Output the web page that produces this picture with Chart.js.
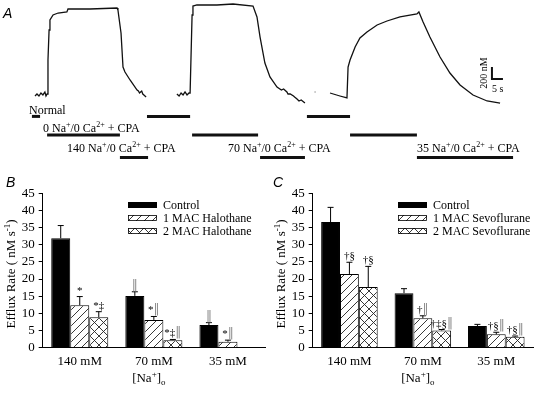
<!DOCTYPE html>
<html>
<head>
<meta charset="utf-8">
<script src="https://cdn.jsdelivr.net/npm/chart.js@4"></script>
<style>
body { margin: 0; background: #fff; }
#wrap { position: relative; width: 546px; height: 395px; overflow: hidden; }
canvas { position: absolute; }
</style>
</head>
<body>
<div id="wrap">
	<canvas id="chartA" style="left:0;top:0;width:546px;height:165px" width="546" height="165"></canvas>
	<canvas id="chartB" style="left:0;top:165px;width:270px;height:230px" width="270" height="230"></canvas>
	<canvas id="chartC" style="left:270px;top:165px;width:276px;height:230px" width="276" height="230"></canvas>
</div>
<script>
// ---- panel A: Ca trace, [time s, nM] ----
const trace1 = [[0,150],[0.9,183],[1.8,150],[2.7,200],[3.6,167],[4.5,217],[5,150],[5.5,183],[5.9,750],[6.4,1250],[6.8,1417],[8.2,1500],[10.5,1533],[14.5,1550],[15,1600],[25,1600],[37.3,1617],[37.7,1583],[39.1,1200],[40,633],[40.9,550],[43.2,417],[46.4,250],[47,233],[47.5,200],[48,217],[48.5,233],[49,183],[49.5,167],[50.5,133]];
const trace2 = [[64.5,183],[65.5,150],[66.4,200],[67.3,167],[68.2,217],[69.1,167],[70,200],[70.5,200],[71.4,1500],[71.8,1650],[73.6,1667],[82.7,1667],[90,1683],[99.1,1650],[100.9,1467],[102.3,1133],[104.5,700],[106.8,467],[110,300],[112,250],[113,267],[114.5,217],[115,183],[116,183],[117.5,150],[118,133],[119.1,100],[120,67],[121,83],[122.7,33]];
const trace3 = [[134.1,200],[138.6,150],[141.8,117],[142.3,633],[143.2,750],[145.5,967],[147.7,1117],[150.9,1217],[155.5,1333],[160,1400],[165.9,1467],[173.6,1517],[174.5,1550],[176.4,1383],[179.5,1133],[184.1,800],[188.6,533],[193.2,333],[199.1,167],[205.5,67],[211.4,33]];
const strayPoint = [[127.3,217]];

// solution periods (s)
const normalBars = [[-1.4,2.3],[50.9,70.5],[123.6,143.2]];
const zeroNaBars = [[5.5,38.6],[71.4,101.4],[143.2,173.6]];
const testNaBars = [[38.6,51.4],[102.3,122.7],[173.6,217.3]];
const scaleBarNM = 200;
const scaleBarS = 5;

// ---- panels B and C: efflux rates (nM/s) ----
const naLabels = ['140 mM', '70 mM', '35 mM'];
const haloNames = ['Control', '1 MAC Halothane', '2 MAC Halothane'];
const sevoNames = ['Control', '1 MAC Sevoflurane', '2 MAC Sevoflurane'];

const haloControl = [31.9, 15.1, 6.6];
const haloControlErr = [3.7, 1.2, 0.7];
const halo1 = [12.4, 8.1, 1.75];
const halo1Err = [2.5, 1.0, 0.45];
const halo2 = [8.9, 2.2, 0];
const halo2Err = [1.6, 0.2, 0];

const sevoControl = [36.6, 15.9, 6.3];
const sevoControlErr = [4.3, 1.3, 0.5];
const sevo1 = [21.5, 8.6, 3.9];
const sevo1Err = [3.4, 0.7, 0.6];
const sevo2 = [17.7, 5.0, 3.2];
const sevo2Err = [6.0, 0.3, 0.2];

const haloMarks = [['', '‖', '‖'], ['*', '*‖', '*‖'], ['*‡', '*‡‖', '']];
const sevoMarks = [['', '', ''], ['†§', '†‖', '†§‖'], ['†§', '†‡§‖', '†§‖']];

const SERIF = '"Liberation Serif", "Times New Roman", serif';

// text with ^{sup} and _{sub}
function richText(ctx, str, x, y, size, align) {
	const parts = [];
	const re = /([\^_])\{([^}]*)\}|([^\^_]+)/g;
	let m;
	while ((m = re.exec(str))) {
		if (m[3]) parts.push({ t: m[3], k: 0 });
		else parts.push({ t: m[2], k: m[1] === '^' ? 1 : -1 });
	}
	const big = size + 'px ' + SERIF;
	const small = Math.round(size * 0.68) + 'px ' + SERIF;
	let w = 0;
	parts.forEach(p => { ctx.font = p.k ? small : big; p.w = ctx.measureText(p.t).width; w += p.w; });
	let cx = align === 'center' ? x - w / 2 : x;
	ctx.textAlign = 'left';
	ctx.textBaseline = 'alphabetic';
	parts.forEach(p => {
		ctx.font = p.k ? small : big;
		const dy = p.k === 1 ? -size * 0.38 : p.k === -1 ? size * 0.25 : 0;
		ctx.fillText(p.t, cx, y + dy);
		cx += p.w;
	});
}

function makePattern(cross) {
	const c = document.createElement('canvas');
	const s = cross ? 9 : 8;
	c.width = s; c.height = s;
	const g = c.getContext('2d');
	g.fillStyle = '#fff';
	g.fillRect(0, 0, s, s);
	g.strokeStyle = '#222';
	g.lineWidth = 0.9;
	g.beginPath();
	g.moveTo(-1, s + 1); g.lineTo(s + 1, -1);
	g.moveTo(-1, 1); g.lineTo(1, -1);
	g.moveTo(s - 1, s + 1); g.lineTo(s + 1, s - 1);
	if (cross) {
		g.moveTo(-1, -1); g.lineTo(s + 1, s + 1);
		g.moveTo(s - 1, -1); g.lineTo(s + 1, 1);
		g.moveTo(-1, s - 1); g.lineTo(1, s + 1);
	}
	g.stroke();
	return g.createPattern(c, 'repeat');
}

// ---------------- panel A ----------------
function lineSet(points, width) {
	return {
		data: points.map(p => ({ x: p[0], y: p[1] })),
		showLine: true,
		borderColor: '#111',
		borderWidth: width,
		pointRadius: 0,
		tension: 0,
		borderCapStyle: 'butt',
		clip: false
	};
}

const rowNormal = -190, rowZero = -500, rowTest = -875;
const protoSets = [];
normalBars.forEach(b => protoSets.push(lineSet([[b[0], rowNormal], [b[1], rowNormal]], 3)));
zeroNaBars.forEach(b => protoSets.push(lineSet([[b[0], rowZero], [b[1], rowZero]], 3)));
testNaBars.forEach(b => protoSets.push(lineSet([[b[0], rowTest], [b[1], rowTest]], 3)));

const sbX = 207.7, sbY = 433;
const scaleBar = lineSet([[sbX, sbY + scaleBarNM], [sbX, sbY], [sbX + scaleBarS, sbY]], 2);

const strayDot = lineSet(strayPoint, 0);
strayDot.showLine = false;
strayDot.pointRadius = 0.7;
strayDot.pointBackgroundColor = '#888';
strayDot.pointBorderWidth = 0;

const panelALabels = {
	id: 'panelALabels',
	afterDraw(chart) {
		const ctx = chart.ctx;
		ctx.save();
		ctx.fillStyle = '#000';
		ctx.font = 'italic 14px "Liberation Sans", Arial, sans-serif';
		ctx.textAlign = 'left';
		ctx.textBaseline = 'alphabetic';
		ctx.fillText('A', 3, 18);
		richText(ctx, 'Normal', 29, 113.5, 12, 'left');
		richText(ctx, '0 Na^{+}/0 Ca^{2+} + CPA', 43, 131.5, 12, 'left');
		richText(ctx, '140 Na^{+}/0 Ca^{2+} + CPA', 67, 152, 12, 'left');
		richText(ctx, '70 Na^{+}/0 Ca^{2+} + CPA', 228, 152, 12, 'left');
		richText(ctx, '35 Na^{+}/0 Ca^{2+} + CPA', 417, 152, 12, 'left');
		richText(ctx, '5 s', 492, 92, 10, 'left');
		ctx.translate(486.5, 73);
		ctx.rotate(-Math.PI / 2);
		richText(ctx, '200 nM', 0, 0, 10, 'center');
		ctx.restore();
	}
};

new Chart(document.getElementById('chartA'), {
	type: 'scatter',
	data: {
		datasets: [lineSet(trace1, 1.3), lineSet(trace2, 1.3), lineSet(trace3, 1.3), strayDot, scaleBar].concat(protoSets)
	},
	options: {
		responsive: false,
		animation: false,
		layout: { padding: 0 },
		plugins: { legend: { display: false }, tooltip: { enabled: false } },
		scales: {
			// the library keeps a 4px point margin round the plot area
			x: { type: 'linear', display: false, min: -14.09, max: 230.45 },
			y: { type: 'linear', display: false, min: -933.3, max: 1683.3 }
		}
	},
	plugins: [panelALabels]
});

// ---------------- panels B and C ----------------
function barPanel(canvasId, letter, names, values, errors, marks, padRight) {
	const fills = ['#000', makePattern(false), makePattern(true)];

	const extras = {
		id: 'extras' + letter,
		afterDatasetsDraw(chart) {
			const ctx = chart.ctx;
			const ys = chart.scales.y;
			ctx.save();
			ctx.strokeStyle = '#000';
			ctx.lineWidth = 1;
			chart.data.datasets.forEach((ds, i) => {
				const meta = chart.getDatasetMeta(i);
				meta.data.forEach((bar, j) => {
					const v = values[i][j], e = errors[i][j];
					let top = bar.y;
					if (v > 0 && e > 0) {
						const yc = ys.getPixelForValue(v + e);
						ctx.beginPath();
						ctx.moveTo(bar.x, bar.y);
						ctx.lineTo(bar.x, yc);
						ctx.moveTo(bar.x - 3, yc);
						ctx.lineTo(bar.x + 3, yc);
						ctx.stroke();
						top = yc;
					}
					const s = marks[i][j];
					if (!s) return;
					ctx.textBaseline = 'alphabetic';
					ctx.textAlign = 'left';
					const chars = Array.from(s);
					const fontFor = c => c === '‖' ? '12px "DejaVu Sans", sans-serif' : '11px ' + SERIF;
					const w = chars.reduce((a, c) => { ctx.font = fontFor(c); return a + ctx.measureText(c).width; }, 0);
					let cx = bar.x - w / 2;
					chars.forEach(c => {
						ctx.font = fontFor(c);
						ctx.fillStyle = c === '‖' ? '#8c8c8c' : '#000';
						ctx.fillText(c, cx, top - 3);
						cx += ctx.measureText(c).width;
					});
				});
			});

			// legend
			const lx = 128, rows = [40, 53, 66];
			names.forEach((n, i) => {
				const h = 6;
				ctx.fillStyle = fills[i];
				ctx.fillRect(lx, rows[i] - h / 2, 29, h);
				ctx.strokeStyle = '#000';
				ctx.lineWidth = 0.8;
				ctx.strokeRect(lx + 0.5, rows[i] - h / 2 + 0.5, 28, h - 1);
				ctx.fillStyle = '#000';
				richText(ctx, n, lx + 35, rows[i] + 4.2, 12, 'left');
			});

			// panel letter and axis titles
			const area = chart.chartArea;
			ctx.fillStyle = '#000';
			ctx.font = 'italic 14px "Liberation Sans", Arial, sans-serif';
			ctx.textAlign = 'left';
			ctx.fillText(letter, letter === 'B' ? 6 : 3, 22);
			richText(ctx, '[Na^{+}]_{o}', (area.left + area.right) / 2 - 5, 217, 13, 'center');
			ctx.translate(14.5, 109);
			ctx.rotate(-Math.PI / 2);
			richText(ctx, 'Efflux Rate ( nM s^{-1})', 0, 0, 13, 'center');
			ctx.restore();
		}
	};

	return new Chart(document.getElementById(canvasId), {
		type: 'bar',
		data: {
			labels: naLabels,
			datasets: names.map((n, i) => ({
				label: n,
				data: values[i],
				backgroundColor: fills[i],
				borderColor: '#000',
				borderWidth: 1,
				categoryPercentage: 0.77,
				barPercentage: 1.0
			}))
		},
		options: {
			responsive: false,
			animation: false,
			layout: { padding: { left: 0, top: 28.3, right: padRight, bottom: 0 } },
			plugins: { legend: { display: false }, tooltip: { enabled: false } },
			scales: {
				x: {
					afterFit(s) { s.height = 47.3; },
					grid: { display: false, drawTicks: false },
					border: { display: true, color: '#000', width: 1 },
					ticks: { color: '#000', padding: 6, font: { family: SERIF, size: 13 } }
				},
				y: {
					min: 0,
					max: 45,
					afterFit(s) { s.width = 42.7; },
					grid: { drawOnChartArea: false, drawTicks: true, tickLength: 4, color: '#000' },
					border: { display: true, color: '#000', width: 1 },
					ticks: { stepSize: 5, autoSkip: false, color: '#000', padding: 4, font: { family: SERIF, size: 13 } }
				}
			}
		},
		plugins: [extras]
	});
}

barPanel('chartB', 'B', haloNames,
	[haloControl, halo1, halo2], [haloControlErr, halo1Err, halo2Err], haloMarks, 5);
barPanel('chartC', 'C', sevoNames,
	[sevoControl, sevo1, sevo2], [sevoControlErr, sevo1Err, sevo2Err], sevoMarks, 13);
</script>
</body>
</html>
